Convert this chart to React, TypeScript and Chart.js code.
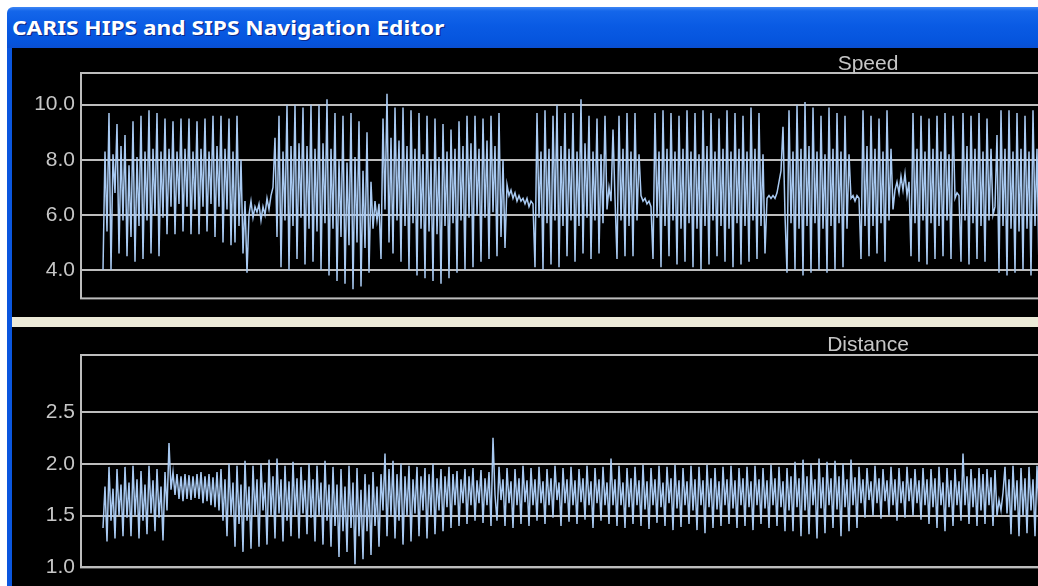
import React, { useEffect, useLayoutEffect, useRef } from "react";
import { Chart, registerables } from "chart.js";

Chart.register(...registerables);

// ---------- text ----------
const WINDOW_TITLE = "CARIS HIPS and SIPS Navigation Editor";
const SPEED_TITLE = "Speed";
const DISTANCE_TITLE = "Distance";

// ---------- axis ticks ----------
const speedTicks = [4.0, 6.0, 8.0, 10.0];
const distanceTicks = [1.0, 1.5, 2.0, 2.5];
const speedRange = [2.97, 11.15];
const distanceRange = [1.0, 3.05];

// ---------- speed series (segment by segment) ----------
const speedBurstA1 = [4.0, 8.3, 5.4, 9.7, 4.0, 8.2, 6.8, 9.3, 4.6, 8.5, 5.8, 8.9, 4.5, 7.8, 5.2, 9.4, 4.3, 8.1, 5.6, 9.6, 4.4, 8.3, 5.8, 9.8, 4.6, 8.4, 6.0, 9.7, 4.5, 8.3, 5.9, 9.5, 5.3, 8.4];
const speedBurstA2 = [6.3, 9.4, 5.3, 8.3, 6.4, 9.5, 5.4, 8.4, 6.3, 9.5, 5.3, 8.3, 6.2, 9.4, 5.3, 8.4, 6.3, 9.5, 5.4, 8.3, 6.4, 9.6, 5.2, 8.5, 6.3, 9.6, 5.0, 8.4, 6.2, 9.5, 4.9, 8.3];
const speedDropA3 = [5.0, 9.6, 5.6, 8.0, 4.6, 6.5, 3.9];
const speedCalm1 = [6.0, 6.5, 5.9, 6.3, 6.1, 6.4, 5.8, 6.3, 6.0, 6.6, 6.2, 6.7];
const speedBurstB = [7.0, 8.8, 5.2, 9.6, 4.1, 8.3, 5.8, 10.0, 4.0, 8.5, 5.6, 10.0, 4.4, 8.6, 5.9, 9.9, 4.2, 8.5, 5.5, 10.0, 4.3, 8.4, 5.4, 10.0, 4.0, 8.6, 5.7, 10.2];
const speedBurstB2 = [3.8, 8.4, 5.5, 9.7, 3.6, 8.0, 5.2, 9.6, 3.5, 7.9, 4.9, 9.7, 3.3, 8.1, 5.0, 9.4, 3.4, 7.6, 4.8, 9.0, 3.9, 7.2];
const speedCalm2 = [5.5, 6.5, 5.8, 6.4, 4.4];
const speedBurstC = [9.5, 6.2, 10.4, 5.0, 8.8, 4.6, 9.9, 5.8, 8.7, 4.3, 9.9, 5.6, 8.5, 4.0, 9.8, 5.7, 8.4, 3.8, 9.7, 5.5, 8.2, 3.7, 9.6, 5.4, 8.0, 3.6, 9.5, 5.3, 8.1, 3.5, 9.3, 5.6, 8.3, 3.7, 9.1, 5.7, 8.4, 3.9, 9.4, 5.8, 8.5, 4.0, 9.6, 5.9, 8.6, 4.1, 9.6, 6.0, 8.4, 4.3, 9.5, 5.9, 8.7, 4.4, 9.6, 6.1, 8.5, 4.5];
const speedSpikeC2 = [9.7, 5.2, 8.0, 4.8];
const speedCalm3 = [7.1, 6.7, 6.9, 6.6, 6.8, 6.5, 6.7, 6.5, 6.6, 6.4, 6.6, 6.3, 6.5, 6.4];
const speedBurstD = [4.1, 9.7, 5.9, 8.3, 4.0, 9.8, 5.7, 8.4, 4.2, 9.6, 5.8, 10.0, 4.1, 8.5, 5.6, 9.7, 4.5, 8.4, 5.8, 9.7, 4.3, 8.3, 5.6, 10.2, 4.6, 8.6, 5.9, 9.6, 4.4, 8.3, 5.8, 9.5, 4.6, 8.2, 5.7, 9.6];
const speedSpikeD2 = [6.2, 7.0, 6.5, 9.1, 6.6];
const speedBurstE = [4.4, 9.6, 5.8, 8.4, 4.5, 9.7, 5.6, 8.3, 4.5, 9.7, 5.8, 8.2];
const speedCalm4 = [6.7, 6.5, 6.6, 6.4, 6.5, 6.3];
const speedBurstF = [4.4, 9.7, 5.9, 8.3, 4.1, 9.8, 5.6, 8.4, 4.5, 9.7, 5.8, 8.3, 4.2, 9.6, 5.5, 8.4, 4.3, 9.8, 5.7, 8.3, 4.1, 9.7, 5.5, 8.2, 4.0, 9.8, 5.6, 8.5, 4.2, 9.7, 5.8, 8.3, 4.5, 9.5, 5.6, 8.4, 4.3, 9.8, 5.5, 8.3, 4.1, 9.7, 5.7, 8.4, 4.2, 9.6, 5.6, 8.3, 4.3, 9.9, 5.8, 8.4, 4.4, 9.7, 5.6, 8.2, 4.6];
const speedCalm5 = [6.6, 6.7, 6.6, 6.7, 6.6, 6.8, 7.2, 7.6, 9.2, 6.0];
const speedBurstG = [3.9, 9.8, 5.7, 8.3, 4.0, 10.0, 5.5, 8.4, 3.8, 10.1, 5.6, 8.5, 3.9, 9.9, 5.7, 8.3, 4.0, 9.6, 5.5, 8.2, 3.9, 9.9, 5.6, 8.4, 4.0, 9.7, 5.7, 8.3, 4.1, 9.6, 5.5, 8.2];
const speedCalm6 = [6.6, 6.7, 6.5, 6.7, 6.6];
const speedBurstH = [4.4, 9.8, 5.6, 8.5, 4.5, 9.6, 5.6, 8.4, 4.6, 9.5, 5.7, 8.3, 4.3, 9.8, 5.8, 8.4];
const speedCalm7 = [6.2, 6.9, 7.2, 6.8, 7.4, 6.9, 7.5, 6.7, 7.2];
const speedBurstI = [4.5, 9.7, 5.7, 8.4, 4.3, 9.6, 5.8, 8.3, 4.2, 9.5, 5.7, 8.4, 4.4, 9.6, 5.6, 8.3, 4.5, 9.7, 5.8, 8.2, 4.4, 9.6];
const speedCalm8 = [6.6, 6.8, 6.7];
const speedBurstJ = [4.3, 9.7, 5.8, 8.5, 4.2, 9.6, 5.7, 8.4, 4.4, 9.7, 5.6, 8.3, 4.3, 9.5, 5.8, 8.4];
const speedCalm9 = [6.0, 6.3, 8.9];
const speedBurstK = [3.9, 9.8, 5.6, 8.4, 3.8, 9.8, 5.5, 8.3, 3.9, 9.7, 5.4, 8.4, 4.0, 9.6, 5.5, 8.3, 3.8, 9.8, 5.6, 8.4, 3.9, 9.7];

const speedValues = [
  ...speedBurstA1, ...speedBurstA2, ...speedDropA3, ...speedCalm1, ...speedBurstB, ...speedBurstB2,
  ...speedCalm2, ...speedBurstC, ...speedSpikeC2, ...speedCalm3, ...speedBurstD, ...speedSpikeD2,
  ...speedBurstE, ...speedCalm4, ...speedBurstF, ...speedCalm5, ...speedBurstG, ...speedCalm6,
  ...speedBurstH, ...speedCalm7, ...speedBurstI, ...speedCalm8, ...speedBurstJ, ...speedCalm9, ...speedBurstK,
];

// ---------- distance series ----------
const distBurst1 = [1.38, 1.78, 1.25, 1.97, 1.45, 1.76, 1.28, 1.95, 1.5, 1.8, 1.3, 1.97, 1.48, 1.82, 1.3, 1.98, 1.5, 1.85, 1.28, 1.93, 1.45, 1.8, 1.32, 1.98, 1.52, 1.84, 1.35, 1.95, 1.48, 1.78, 1.26, 1.92];
const distSpike2 = [1.55, 2.2, 1.75];
const distCalm3 = [1.92, 1.7, 1.9, 1.66, 1.88, 1.64, 1.9, 1.66, 1.89, 1.65, 1.88, 1.67, 1.9, 1.66, 1.92, 1.62, 1.88, 1.64, 1.9, 1.6, 1.87, 1.58, 1.92, 1.55];
const distBurst4 = [1.95, 1.45, 1.85, 1.3, 2.0, 1.5, 1.82, 1.2, 1.98, 1.42, 1.8, 1.15, 2.03, 1.45, 1.78, 1.18, 1.98, 1.5, 1.85, 1.2, 2.0, 1.55, 1.82, 1.22, 2.04, 1.5, 1.88, 1.28, 2.05, 1.52, 1.85, 1.25, 1.98, 1.45, 1.83, 1.3, 2.02, 1.5, 1.86, 1.28, 1.97, 1.52, 1.84, 1.32, 2.0, 1.48, 1.85, 1.25, 1.98, 1.5, 1.82, 1.22, 2.03, 1.45, 1.8];
const distBurst5 = [1.2, 1.97, 1.4, 1.8, 1.1, 1.95, 1.35, 1.78, 1.15, 1.98, 1.38, 1.82, 1.03, 1.96, 1.3, 1.75, 1.08, 1.9, 1.35, 1.8, 1.12, 1.92, 1.4, 1.78, 1.2, 1.9];
const distBurst6 = [1.55, 2.1, 1.3, 1.95, 1.5, 2.03, 1.28, 1.9, 1.45, 2.0, 1.22, 1.88, 1.5, 1.98, 1.25, 1.85, 1.52, 1.97, 1.3, 1.88, 1.55, 1.96, 1.28, 1.9, 1.5, 2.0, 1.32, 1.86, 1.55, 1.95, 1.35, 1.88, 1.58, 1.97, 1.38, 1.9, 1.6, 1.93, 1.4, 1.85, 1.62, 1.95, 1.42, 1.88, 1.6, 1.96, 1.45, 1.84, 1.62, 1.94, 1.43, 1.86, 1.6, 1.92];
const distSpike7 = [1.4, 2.25, 1.7];
const distBurst8 = [1.45, 1.97, 1.65, 1.85, 1.4, 1.96, 1.62, 1.83, 1.38, 1.95, 1.6, 1.86, 1.42, 1.98, 1.63, 1.84, 1.4, 1.96, 1.6, 1.85, 1.45, 1.97, 1.62, 1.83, 1.42, 1.95, 1.6, 1.86, 1.48, 1.98, 1.65, 1.82, 1.4, 1.96, 1.62, 1.85, 1.44, 1.97, 1.6, 1.84, 1.42, 1.95, 1.63, 1.86, 1.46, 1.98, 1.6, 1.83, 1.38, 1.96, 1.62, 1.85, 1.45, 1.97, 1.6, 1.82, 1.42];
const distSpike9 = [2.05, 1.6];
const distBurst10 = [1.85, 1.4, 1.98, 1.6, 1.82, 1.38, 1.96, 1.58, 1.86, 1.42, 1.97, 1.6, 1.84, 1.4, 1.99, 1.56, 1.83, 1.37, 1.96, 1.6, 1.85, 1.43, 1.98, 1.58, 1.82, 1.4, 1.97, 1.62, 1.86, 1.36, 1.99, 1.57, 1.84, 1.39, 1.96, 1.6, 1.83, 1.42, 1.98, 1.55, 1.85, 1.36, 1.97, 1.6, 1.84, 1.33, 1.99, 1.58, 1.86, 1.38, 1.96, 1.56, 1.83, 1.4, 1.97, 1.6, 1.85, 1.42, 1.98, 1.57, 1.84, 1.38, 1.96, 1.6, 1.86, 1.4, 1.97, 1.58, 1.83, 1.36, 1.98, 1.6, 1.85, 1.42, 1.96, 1.57, 1.84, 1.38, 1.99, 1.6, 1.86, 1.4, 1.97, 1.58, 1.83, 1.35, 1.96, 1.55];
const distBurst11 = [1.88, 1.35, 2.02, 1.58, 1.86, 1.3, 2.04, 1.55, 1.88, 1.32, 2.0, 1.6, 1.85, 1.28, 2.05, 1.57, 1.87, 1.33, 2.02, 1.6, 1.86, 1.38, 2.03, 1.56, 1.88, 1.3, 2.0, 1.58, 1.85, 1.35, 2.04, 1.6, 1.87, 1.38];
const distBurst12 = [1.97, 1.62, 1.85, 1.48, 1.96, 1.65, 1.83, 1.5, 1.98, 1.62, 1.86, 1.47, 1.95, 1.64, 1.84, 1.5, 1.97, 1.6, 1.85, 1.45, 1.96, 1.62, 1.83, 1.48, 1.97, 1.64, 1.86, 1.5, 1.95, 1.62, 1.84, 1.46, 1.96, 1.6, 1.85, 1.42, 1.95, 1.58, 1.86, 1.38, 1.97, 1.6, 1.82, 1.35, 1.96, 1.58, 1.84, 1.4, 1.95, 1.6, 1.83];
const distSpike13 = [1.45, 2.1];
const distBurst14 = [1.6, 1.88, 1.42, 1.95, 1.58, 1.86, 1.4, 1.96, 1.55, 1.9, 1.42, 1.95, 1.6, 1.87, 1.4, 1.94, 1.5];
const distCalm15 = [1.65, 1.55, 1.72];
const distBurst16 = [1.97, 1.52, 1.85, 1.32, 1.98, 1.55, 1.84, 1.3, 1.96, 1.5, 1.86, 1.33, 1.97, 1.55, 1.85, 1.3, 1.98, 1.52, 1.84, 1.32, 1.96];

const distanceValues = [
  ...distBurst1, ...distSpike2, ...distCalm3, ...distBurst4, ...distBurst5, ...distBurst6, ...distSpike7,
  ...distBurst8, ...distSpike9, ...distBurst10, ...distBurst11, ...distBurst12, ...distSpike13,
  ...distBurst14, ...distCalm15, ...distBurst16,
];

// ---------- styling ----------
const LINE_COLOR = "#a9caf2";
const GRID_COLOR = "#bdbdbd";
const LABEL_COLOR = "#c6c6c6";
const LABEL_FONT = "Liberation Sans";

const CANVAS_W = 1100;
const AXIS_W = 69; // plot left edge at x=81 on page (canvas starts at x=12)
const X_MIN = -11;
const X_MAX = 504.5;

const panelPlugin = {
  id: "panel",
  afterDatasetsDraw(chart: any, _args: any, opts: any) {
    const { ctx, chartArea: a } = chart;
    ctx.save();
    ctx.strokeStyle = GRID_COLOR;
    ctx.lineWidth = 2;
    ctx.strokeRect(a.left, a.top, a.right - a.left, a.bottom - a.top);
    ctx.fillStyle = LABEL_COLOR;
    ctx.font = `21px "${LABEL_FONT}"`;
    ctx.textAlign = "center";
    ctx.textBaseline = "alphabetic";
    ctx.fillText(opts.text, a.left + opts.offsetX, a.top - opts.gap);
    ctx.restore();
  },
};

function makeConfig(values: number[], ticks: number[], range: number[], title: string, pad: { top: number; bottom: number }, titleGap: number) {
  return {
    type: "line" as const,
    data: {
      datasets: [
        {
          data: values.map((y, i) => ({ x: i, y })),
          borderColor: LINE_COLOR,
          borderWidth: 1.5,
          pointRadius: 0,
          tension: 0,
          fill: false,
        },
      ],
    },
    options: {
      animation: false,
      responsive: false,
      devicePixelRatio: 1,
      layout: { padding: { top: pad.top, bottom: pad.bottom, left: 0, right: 0 } },
      plugins: {
        legend: { display: false },
        tooltip: { enabled: false },
        panel: { text: title, offsetX: 787, gap: titleGap },
      },
      scales: {
        x: { type: "linear", display: false, min: X_MIN, max: X_MAX },
        y: {
          type: "linear",
          min: range[0],
          max: range[1],
          z: 1,
          afterBuildTicks: (s: any) => {
            s.ticks = ticks.map((v) => ({ value: v }));
          },
          afterFit: (s: any) => {
            s.width = AXIS_W;
          },
          border: { display: false },
          grid: { color: GRID_COLOR, lineWidth: 2, drawTicks: false },
          ticks: {
            color: LABEL_COLOR,
            padding: 6,
            font: { family: LABEL_FONT, size: 21 },
            callback: (v: any) => Number(v).toFixed(1),
          },
        },
      },
    },
    plugins: [panelPlugin],
  };
}

function Panel(props: { top: number; height: number; config: any }) {
  const ref = useRef<HTMLCanvasElement | null>(null);
  useEffect(() => {
    if (!ref.current) return;
    const chart = new Chart(ref.current, props.config);
    return () => chart.destroy();
  }, []);
  return (
    <div
      style={{
        position: "absolute",
        left: 12,
        top: props.top,
        width: 1038 - 12,
        height: props.height,
        overflow: "hidden",
        background: "#000",
      }}
    >
      <canvas ref={ref} width={CANVAS_W} height={props.height} style={{ display: "block" }} />
    </div>
  );
}

export default function App() {
  const titleRef = useRef<HTMLSpanElement | null>(null);
  useLayoutEffect(() => {
    const el = titleRef.current;
    if (!el) return;
    const w = el.offsetWidth;
    if (w > 0) el.style.transform = `scaleX(${432 / w})`;
  }, []);

  const speedConfig = makeConfig(speedValues, speedTicks, speedRange, SPEED_TITLE, { top: 25, bottom: 11 }, 3);
  const distanceConfig = makeConfig(distanceValues, distanceTicks, distanceRange, DISTANCE_TITLE, { top: 28, bottom: 13 }, 4);

  return (
    <div style={{ position: "relative", width: 1038, height: 586, overflow: "hidden", background: "#fff" }}>
      <style>{"html,body{margin:0;padding:0;overflow:hidden;background:#fff}"}</style>
      {/* title bar */}
      <div
        style={{
          position: "absolute",
          left: 7,
          top: 7,
          width: 1031,
          height: 41,
          background: "linear-gradient(180deg, #3d86f4 0%, #1466ea 10%, #0a5be4 45%, #0554dd 85%, #0a4fd2 100%)",
          borderTopLeftRadius: 6,
        }}
      >
        <span
          ref={titleRef}
          style={{
            position: "absolute",
            left: 5,
            top: 9,
            color: "#fff",
            fontFamily: '"Noto Sans", "DejaVu Sans", sans-serif',
            fontWeight: 700,
            fontSize: 20,
            lineHeight: "24px",
            whiteSpace: "nowrap",
            transformOrigin: "left center",
            textShadow: "1px 1px 0 #0b2a8a",
          }}
        >
          {WINDOW_TITLE}
        </span>
      </div>
      {/* left window border */}
      <div style={{ position: "absolute", left: 7, top: 48, width: 5, height: 538, background: "#0a56de" }} />
      {/* panels */}
      <Panel top={48} height={269} config={speedConfig} />
      <div style={{ position: "absolute", left: 12, top: 317, width: 1026, height: 10, background: "#ecead8" }} />
      <Panel top={327} height={259} config={distanceConfig} />
    </div>
  );
}
